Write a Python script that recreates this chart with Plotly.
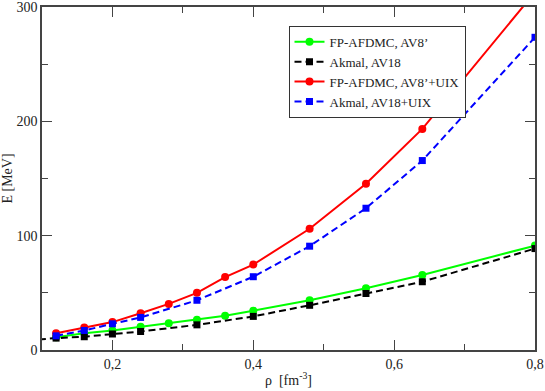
import plotly.graph_objects as go

# Data
rho_fp = [0.12, 0.16, 0.20, 0.24, 0.28, 0.32, 0.36, 0.40, 0.48, 0.56, 0.64, 0.80]
e_fp_av8 = [11.2, 14.7, 17.1, 20.3, 23.5, 26.5, 30.0, 34.4, 43.5, 54.1, 65.6, 91.3]
e_fp_av8_uix = [14.7, 19.7, 24.4, 32.1, 40.3, 50.0, 63.8, 74.7, 106.0, 145.4, 193.4, 313.0]

rho_ak = [0.08, 0.12, 0.16, 0.20, 0.24, 0.32, 0.40, 0.48, 0.56, 0.64, 0.80]
e_ak_av18 = [8.5, 10.4, 11.6, 14.0, 16.2, 22.0, 29.4, 39.1, 49.4, 59.7, 88.7]

rho_ak_uix = [0.12, 0.16, 0.20, 0.24, 0.32, 0.40, 0.48, 0.56, 0.64, 0.80]
e_ak_av18_uix = [12.4, 17.1, 22.9, 28.5, 43.5, 64.1, 90.8, 124.0, 165.7, 273.5]

x_ticks = [0.2, 0.4, 0.6, 0.8]
x_tick_labels = ["0,2", "0,4", "0,6", "0,8"]
y_ticks = [0, 100, 200, 300]

FONT = "Liberation Serif, Times New Roman, DejaVu Serif, serif"
TICKFONT = dict(family=FONT, size=14, color="#222")

fig = go.Figure()
fig.add_trace(go.Scatter(x=rho_fp, y=e_fp_av8, name="FP-AFDMC, AV8’", mode="lines+markers",
                         line=dict(color="#00ff00", width=2),
                         marker=dict(symbol="circle", size=8, color="#00ff00")))
fig.add_trace(go.Scatter(x=rho_ak, y=e_ak_av18, name="Akmal, AV18", mode="lines+markers",
                         line=dict(color="#000000", width=2, dash="7px,4px"),
                         marker=dict(symbol="square", size=7, color="#000000")))
fig.add_trace(go.Scatter(x=rho_fp, y=e_fp_av8_uix, name="FP-AFDMC, AV8’+UIX", mode="lines+markers",
                         line=dict(color="#ff0000", width=2),
                         marker=dict(symbol="circle", size=8, color="#ff0000")))
fig.add_trace(go.Scatter(x=rho_ak_uix, y=e_ak_av18_uix, name="Akmal, AV18+UIX", mode="lines+markers",
                         line=dict(color="#0000ff", width=2, dash="7px,4px"),
                         marker=dict(symbol="square", size=7, color="#0000ff")))

fig.update_layout(
    width=545, height=391,
    margin=dict(l=42, r=10, t=7, b=41, autoexpand=False),
    paper_bgcolor="white", plot_bgcolor="white",
    separators=",.",
    font=dict(family=FONT, size=14, color="#222"),
    showlegend=True,
    legend=dict(x=0.50, y=0.945, xanchor="left", yanchor="top",
                bordercolor="#333", borderwidth=1, bgcolor="white",
                font=dict(family=FONT, size=13, color="#222"),
                tracegroupgap=0, itemwidth=30),
)
fig.update_xaxes(
    range=[0.1, 0.8], tickvals=x_ticks, ticktext=x_tick_labels, automargin=False,
    tickfont=TICKFONT, ticklabeloverflow="allow",
    ticks="inside", ticklen=10, tickcolor="#444", showgrid=False, zeroline=False,
    showline=True, linecolor="#444", linewidth=1.5, mirror="ticks",
    minor=dict(tickvals=[0.3, 0.5, 0.7], ticks="inside", ticklen=6, tickcolor="#444"),
    title=dict(text="ρ  [fm<sup>-3</sup>]", standoff=5, font=dict(family=FONT, size=14)),
)
fig.update_yaxes(
    range=[0, 300], tickvals=y_ticks, automargin=False,
    tickfont=TICKFONT, ticklabeloverflow="allow",
    ticks="inside", ticklen=10, tickcolor="#444", showgrid=False, zeroline=False,
    showline=True, linecolor="#444", linewidth=1.5, mirror="ticks",
    minor=dict(tickvals=[50, 150, 250], ticks="inside", ticklen=6, tickcolor="#444"),
    title=dict(text="E [MeV]", standoff=4, font=dict(family=FONT, size=14)),
)

fig.write_html("out.html", config={"displayModeBar": False},
               post_script="document.body.style.margin='0';document.body.style.overflow='hidden';")
